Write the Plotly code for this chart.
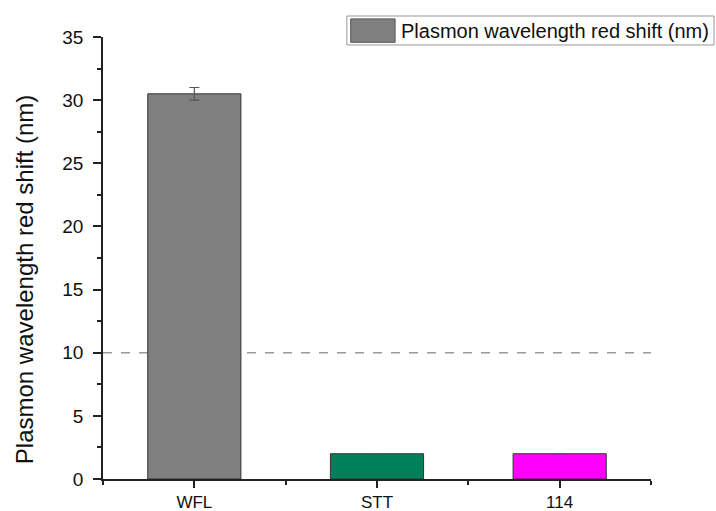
import plotly.graph_objects as go

categories = ["WFL", "STT", "114"]
values = [30.5, 2.0, 2.0]
errors = [0.5, 0, 0]
colors = ["#808080", "#00805A", "#FF00FF"]
threshold = 10
y_ticks = [0, 5, 10, 15, 20, 25, 30, 35]
legend_label = "Plasmon wavelength red shift (nm)"
y_title = "Plasmon wavelength red shift (nm)"

FONT = "Liberation Sans, Arial"

fig = go.Figure()
fig.add_trace(go.Bar(
    x=[0, 1, 2], y=values, width=0.51,
    marker=dict(color=colors, line=dict(color="#333333", width=1)),
    error_y=dict(type="data", array=errors, visible=True, color="#555555",
                 thickness=1.2, width=5),
    showlegend=False,
))
fig.add_shape(type="line", xref="x", yref="y", x0=-0.5, x1=2.5, y0=threshold, y1=threshold,
              line=dict(color="#999999", width=1.5, dash="dash"), layer="below")

# legend box
fig.add_shape(type="rect", xref="paper", yref="paper", x0=0.445, x1=1.115, y0=0.982, y1=1.0475,
              line=dict(color="#999999", width=1), fillcolor="white")
fig.add_shape(type="rect", xref="paper", yref="paper", x0=0.452, x1=0.533, y0=0.988, y1=1.041,
              line=dict(color="#555555", width=1), fillcolor="#808080")
fig.add_annotation(xref="paper", yref="paper", x=0.541, y=1.0145, text=legend_label,
                   showarrow=False, xanchor="left", yanchor="middle",
                   font=dict(family=FONT, size=20, color="#111111"))

# y-axis title (placed as rotated text to match the reference offset)
fig.add_annotation(xref="paper", yref="paper", x=-0.142, y=0.4525, text=y_title,
                   showarrow=False, textangle=-90, xanchor="center", yanchor="middle",
                   font=dict(family=FONT, size=24, color="#111111"))

fig.update_xaxes(
    range=[-0.5, 2.5], tickmode="array", tickvals=[0, 1, 2], ticktext=categories,
    ticks="outside", ticklen=7, tickwidth=1.5, tickcolor="#222222",
    showline=True, linecolor="#222222", linewidth=1.5, showgrid=False, zeroline=False,
    minor=dict(tickvals=[-0.5, 0.5, 1.5, 2.5], ticks="outside", ticklen=4, tickcolor="#222222", tickwidth=1.5),
    tickfont=dict(family=FONT, size=17, color="#111111"),
    ticklabelstandoff=0, automargin=False,
)
fig.update_yaxes(
    range=[0, 35], tickmode="array", tickvals=y_ticks,
    ticks="outside", ticklen=8, tickwidth=1.5, tickcolor="#222222",
    showline=True, linecolor="#222222", linewidth=1.5, showgrid=False, zeroline=False,
    minor=dict(dtick=2.5, ticks="outside", ticklen=4, tickcolor="#222222", tickwidth=1.5),
    tickfont=dict(family=FONT, size=19, color="#111111"),
    ticklabelstandoff=6, automargin=False,
)
fig.update_layout(
    width=716, height=511, margin=dict(l=103, r=65, t=37, b=32),
    plot_bgcolor="white", paper_bgcolor="white", showlegend=False,
)
fig.write_html("out.html")
